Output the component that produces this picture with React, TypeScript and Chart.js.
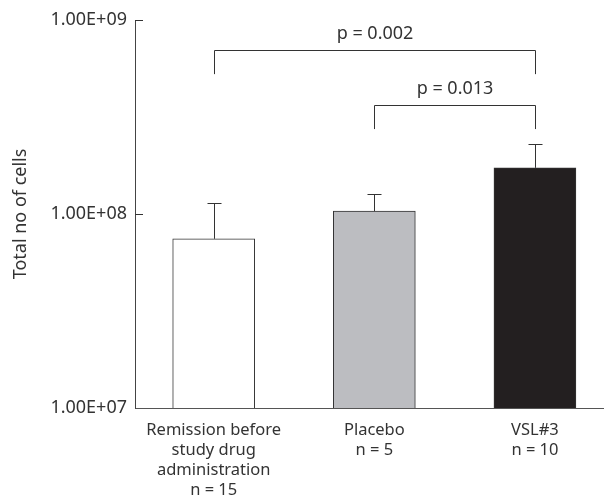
import React, { useEffect, useRef } from "react";
import { Chart, registerables } from "chart.js";

Chart.register(...registerables);

const categoryLabels: string[][] = [
  ["Remission before", "study drug", "administration", "n = 15"],
  ["Placebo", "n = 5"],
  ["VSL#3", "n = 10"],
];
const meanValues: number[] = [7.45e7, 1.035e8, 1.73e8];
const errorHigh: number[] = [1.14e8, 1.27e8, 2.3e8];
const barColors: string[] = ["#ffffff", "#bcbdc1", "#231f20"];
const yTickValues: number[] = [1e7, 1e8, 1e9];
const yTickLabels: string[] = ["1.00E+07", "1.00E+08", "1.00E+09"];
const yAxisTitle = "Total no of cells";

const bracketFrom: number[] = [0, 1];
const bracketTo: number[] = [2, 2];
const bracketLevel: number[] = [7.0e8, 3.65e8];
const bracketDrop: number[] = [5.26e8, 2.74e8];
const bracketLabels: string[] = ["p = 0.002", "p = 0.013"];

const FONT = "'Noto Sans', sans-serif";
const INK = "#333333";

const annotations = {
  id: "annotations",
  afterDatasetsDraw(chart: any) {
    const ctx = chart.ctx;
    const xs = chart.scales.x;
    const ys = chart.scales.y;
    ctx.save();
    ctx.strokeStyle = INK;
    ctx.lineWidth = 1;
    // error bars
    meanValues.forEach((v, i) => {
      const x = Math.round(xs.getPixelForValue(i)) + 0.5;
      const yb = ys.getPixelForValue(v);
      const yt = Math.round(ys.getPixelForValue(errorHigh[i])) + 0.5;
      ctx.beginPath();
      ctx.moveTo(x, yb);
      ctx.lineTo(x, yt);
      ctx.moveTo(x - 7, yt);
      ctx.lineTo(x + 7, yt);
      ctx.stroke();
    });
    // inward y ticks
    const left = chart.chartArea.left;
    yTickValues.slice(1).forEach((v) => {
      const y = Math.round(ys.getPixelForValue(v)) + 0.5;
      ctx.beginPath();
      ctx.moveTo(left, y);
      ctx.lineTo(left + 8, y);
      ctx.stroke();
    });
    // brackets
    ctx.fillStyle = INK;
    ctx.font = `18px ${FONT}`;
    ctx.textAlign = "center";
    ctx.textBaseline = "middle";
    bracketLabels.forEach((label, i) => {
      const x1 = Math.round(xs.getPixelForValue(bracketFrom[i])) + 0.5;
      const x2 = Math.round(xs.getPixelForValue(bracketTo[i])) + 0.5;
      const yl = Math.round(ys.getPixelForValue(bracketLevel[i])) + 0.5;
      const yd = ys.getPixelForValue(bracketDrop[i]);
      ctx.beginPath();
      ctx.moveTo(x1, yd);
      ctx.lineTo(x1, yl);
      ctx.lineTo(x2, yl);
      ctx.lineTo(x2, yd);
      ctx.stroke();
      ctx.fillText(label, (x1 + x2) / 2, yl - 17);
    });
    ctx.restore();
  },
};

export default function App() {
  const ref = useRef<HTMLCanvasElement | null>(null);
  useEffect(() => {
    document.body.style.margin = "0";
    const canvas = ref.current;
    if (!canvas) return;
    const chart = new Chart(canvas, {
      type: "bar",
      data: {
        datasets: [
          {
            data: meanValues.map((v, i) => ({ x: i, y: v })),
            backgroundColor: barColors,
            borderColor: INK,
            borderWidth: 1,
            barThickness: 82,
          },
        ],
      },
      options: {
        responsive: false,
        animation: false,
        events: [],
        layout: { padding: { top: 20, left: 0, right: 0, bottom: 0 } },
        plugins: { legend: { display: false }, tooltip: { enabled: false } },
        scales: {
          x: {
            type: "linear",
            offset: false,
            min: -0.49,
            max: 2.43,
            grid: { display: false, drawTicks: false, offset: false },
            border: { display: true, color: "#555555", width: 1 },
            afterBuildTicks: (scale: any) => {
              scale.ticks = categoryLabels.map((_, i) => ({ value: i }));
            },
            afterFit: (scale: any) => {
              scale.height = 91;
            },
            ticks: {
              autoSkip: false,
              maxRotation: 0,
              padding: 12,
              color: INK,
              font: { family: FONT, size: 16.5, lineHeight: 1.22 },
              callback: (v: any) => categoryLabels[Math.round(Number(v))] ?? "",
            },
          },
          y: {
            type: "logarithmic",
            min: 1e7,
            max: 1e9,
            grid: { display: false, drawTicks: false },
            border: { display: true, color: "#444444", width: 1 },
            afterBuildTicks: (scale: any) => {
              scale.ticks = yTickValues.map((v) => ({ value: v }));
            },
            afterFit: (scale: any) => {
              scale.width = 135;
            },
            ticks: {
              padding: 8,
              color: INK,
              font: { family: FONT, size: 18 },
              callback: (v: any) => {
                const idx = yTickValues.indexOf(Number(v));
                return idx >= 0 ? yTickLabels[idx] : "";
              },
            },
            title: {
              display: true,
              text: yAxisTitle,
              color: INK,
              font: { family: FONT, size: 18 },
              padding: { top: 10, bottom: 4 },
            },
          },
        },
      },
      plugins: [annotations],
    });
    return () => chart.destroy();
  }, []);
  return (
    <div style={{ width: 604, height: 499 }}>
      <canvas ref={ref} width={604} height={499} style={{ display: "block" }} />
    </div>
  );
}
